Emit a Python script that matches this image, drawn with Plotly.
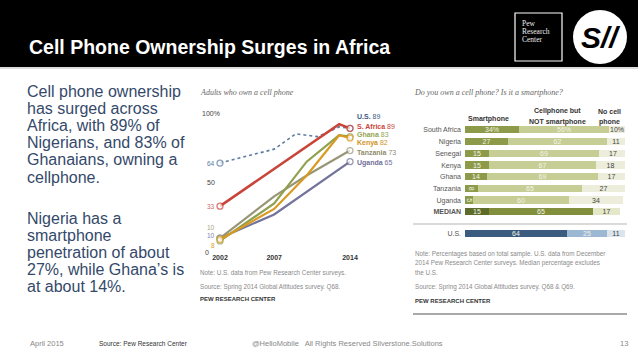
import plotly.graph_objects as go

W, H = 638, 359

def px(x):
    return x / W

def py(y):
    return 1 - y / H

# ---------------- data ----------------
title_text = "Cell Phone Ownership Surges in Africa"

para1 = ["Cell phone ownership", "has surged across", "Africa, with 89% of",
         "Nigerians, and 83% of", "Ghanaians, owning a", "cellphone."]
para2 = ["Nigeria has a", "smartphone", "penetration of about",
         "27%, while Ghana\u2019s is", "at about 14%."]

# line chart: adults who own a cell phone
us_years = [2002, 2007, 2009, 2011, 2013, 2014]
us_vals = [64, 74, 85, 83, 90, 89]
sa_years = [2002, 2013, 2014]
sa_vals = [33, 92, 89]
gh_years = [2002, 2007, 2010, 2013, 2014]
gh_vals = [8, 35, 65, 84, 83]
ke_years = [2002, 2007, 2010, 2013, 2014]
ke_vals = [9, 31, 55, 84, 82]
tz_years = [2002, 2007, 2010, 2014]
tz_vals = [10, 40, 55, 73]
ug_years = [2002, 2007, 2014]
ug_vals = [10, 27, 65]
line_ticks = [2002, 2007, 2014]

# bar chart: smartphone / cellphone / none
countries = ["South Africa", "Nigeria", "Senegal", "Kenya", "Ghana",
             "Tanzania", "Uganda", "MEDIAN"]
smart = [34, 27, 15, 15, 14, 8, 5, 15]
cell_only = [56, 62, 69, 67, 69, 65, 60, 65]
no_cell = [10, 11, 17, 18, 17, 27, 34, 17]
us_label = ["U.S."]
us_smart = [64]
us_cell = [25]
us_none = [11]

# ---------------- figure ----------------
fig = go.Figure()

series = [
    ("U.S.", us_years, us_vals, "#5b7aa3", "dot", 1.6),
    ("Uganda", ug_years, ug_vals, "#73739c", "solid", 2.2),
    ("Tanzania", tz_years, tz_vals, "#999577", "solid", 2.2),
    ("Ghana", gh_years, gh_vals, "#8fa04e", "solid", 2.2),
    ("Kenya", ke_years, ke_vals, "#d99a22", "solid", 2.2),
    ("S. Africa", sa_years, sa_vals, "#c9453a", "solid", 2.6),
]
for name, xs, ys, col, dash, w in series:
    sizes = [6 if i in (0, len(xs) - 1) else 0 for i in range(len(xs))]
    fig.add_trace(go.Scatter(
        x=xs, y=ys, mode="lines+markers", name=name,
        line=dict(color=col, width=w, dash=dash),
        marker=dict(symbol="circle", size=sizes, color="white",
                    line=dict(color=col, width=1.3)),
        cliponaxis=False, xaxis="x", yaxis="y", showlegend=False,
        hoverinfo="skip"))

light_txt = "#f3f4e6"
dark_txt = "#444444"

def bar_texts(vals, first_pct):
    return [(f"{v}%" if (i == 0 and first_pct) else f"{v}") for i, v in enumerate(vals)]

smart_cols = ["#8c9a4a"] * 7 + ["#5d6b2b"]
cell_cols = ["#c6cd95"] * 7 + ["#828f3d"]
none_cols = ["#eceedb"] * 7 + ["#e4e8c8"]

for vals, cols, tc in [(smart, smart_cols, light_txt), (cell_only, cell_cols, light_txt),
                       (no_cell, none_cols, dark_txt)]:
    fig.add_trace(go.Bar(
        y=countries, x=vals, orientation="h", marker=dict(color=cols, line=dict(width=0)),
        text=bar_texts(vals, True), textposition="inside", insidetextanchor="middle",
        textfont=dict(size=7, color=tc, family="Liberation Sans"),
        width=0.62, xaxis="x2", yaxis="y2", showlegend=False, hoverinfo="skip"))

for vals, col, tc in [(us_smart, "#3c5c7f", light_txt), (us_cell, "#9cb8d3", light_txt),
                      (us_none, "#dce5ee", dark_txt)]:
    fig.add_trace(go.Bar(
        y=us_label, x=vals, orientation="h", marker=dict(color=col, line=dict(width=0)),
        text=[str(v) for v in vals], textposition="inside", insidetextanchor="middle",
        textfont=dict(size=7, color=tc, family="Liberation Sans"),
        width=0.62, xaxis="x3", yaxis="y3", showlegend=False, hoverinfo="skip"))

ann = []
shapes = []

# header
shapes.append(dict(type="rect", xref="paper", yref="paper", x0=0, x1=1, y0=py(67), y1=1,
                   fillcolor="black", line=dict(width=0), layer="below"))
shapes.append(dict(type="line", xref="paper", yref="paper", x0=0, x1=1, y0=py(68), y1=py(68),
                   line=dict(color="#bbbbbb", width=1)))
ann.append(dict(text=f"<b>{title_text}</b>", x=px(27), y=py(47), xref="paper", yref="paper",
                xanchor="left", yanchor="middle", showarrow=False,
                font=dict(size=19.5, color="white", family="Liberation Sans")))
# Pew logo box
shapes.append(dict(type="rect", xref="paper", yref="paper", x0=px(515), x1=px(562),
                   y0=py(61), y1=py(13), line=dict(color="white", width=1.2)))
for i, t in enumerate(["Pew", "Research", "Center"]):
    ann.append(dict(text=t, x=px(520), y=py(24 + 8 * i), xref="paper", yref="paper",
                    xanchor="left", yanchor="middle", showarrow=False,
                    font=dict(size=7.5, color="#eeeeee", family="Liberation Serif")))
# SH logo
shapes.append(dict(type="circle", xref="paper", yref="paper", x0=px(573), x1=px(627),
                   y0=py(64), y1=py(10), fillcolor="white", line=dict(width=0)))
ann.append(dict(text="<b><i>S//</i></b>", x=px(600), y=py(37), xref="paper", yref="paper",
                xanchor="center", yanchor="middle", showarrow=False,
                font=dict(size=30, color="black", family="Liberation Sans")))

# left paragraphs
para_col = "#34496a"
for i, t in enumerate(para1):
    ann.append(dict(text=t, x=px(25), y=py(91.5 + 17.1 * i), xref="paper", yref="paper",
                    xanchor="left", yanchor="middle", showarrow=False,
                    font=dict(size=16, color=para_col, family="Liberation Sans")))
for i, t in enumerate(para2):
    ann.append(dict(text=t, x=px(25), y=py(218 + 17.1 * i), xref="paper", yref="paper",
                    xanchor="left", yanchor="middle", showarrow=False,
                    font=dict(size=16, color=para_col, family="Liberation Sans")))

# line chart texts
ann.append(dict(text="<i>Adults who own a cell phone</i>", x=px(198), y=py(93), xref="paper",
                yref="paper", xanchor="left", yanchor="middle", showarrow=False,
                font=dict(size=8, color="#666666", family="Liberation Serif")))
for val, lbl, xx in [(100, "100%", 200), (50, "50", 205), (0, "0", 203)]:
    ann.append(dict(text=lbl, x=px(xx), y=val, xref="paper", yref="y", xanchor="left",
                    yanchor="middle", showarrow=False,
                    font=dict(size=7, color="#444444", family="Liberation Sans")))
left_labels = [("64", us_vals[0], "#5b7aa3", 0), ("33", sa_vals[0], "#d0675e", 0),
               ("10", tz_vals[0], "#a8a47e", 11), ("10", ug_vals[0], "#8080a8", 3),
               ("8", ke_vals[0], "#d99a22", -6)]
for t, v, c, dy in left_labels:
    ann.append(dict(text=t, x=2002, y=v, xref="x", yref="y", xanchor="right", yanchor="middle",
                    xshift=-3, yshift=dy, showarrow=False,
                    font=dict(size=6.5, color=c, family="Liberation Sans")))
end_labels = [("U.S.", us_vals[-1], "#3d5a84", 117), ("S. Africa", sa_vals[-1], "#c9453a", 126),
              ("Ghana", gh_vals[-1], "#94a456", 134), ("Kenya", ke_vals[-1], "#d3921c", 143),
              ("Tanzania", tz_vals[-1], "#8f8c6c", 152), ("Uganda", ug_vals[-1], "#6f6f98", 163)]
for name, v, c, yy in end_labels:
    ann.append(dict(text=f"<b>{name}</b> {v}", x=px(355), y=py(yy), xref="paper", yref="paper",
                    xanchor="left", yanchor="middle", showarrow=False,
                    font=dict(size=7, color=c, family="Liberation Sans")))
for i, t in enumerate(["Note: U.S. data from Pew Research Center surveys.",
                       "Source: Spring 2014 Global Attitudes survey. Q68."]):
    ann.append(dict(text=t, x=px(198), y=py(273 + 14 * i), xref="paper", yref="paper",
                    xanchor="left", yanchor="middle", showarrow=False,
                    font=dict(size=6.3, color="#8a8a8a", family="Liberation Sans")))
ann.append(dict(text="<b>PEW RESEARCH CENTER</b>", x=px(198), y=py(299), xref="paper",
                yref="paper", xanchor="left", yanchor="middle", showarrow=False,
                font=dict(size=6, color="#333333", family="Liberation Sans")))

# bar chart texts
ann.append(dict(text="<i>Do you own a cell phone? Is it a smartphone?</i>", x=px(412), y=py(93),
                xref="paper", yref="paper", xanchor="left", yanchor="middle", showarrow=False,
                font=dict(size=8, color="#666666", family="Liberation Serif")))
for t, xx, yy in [("<b>Smartphone</b>", 488, 119),
                  ("<b>Cellphone but</b>", 557, 111), ("<b>NOT smartphone</b>", 557, 122),
                  ("<b>No cell</b>", 609, 111), ("<b>phone</b>", 609, 122)]:
    ann.append(dict(text=t, x=px(xx), y=py(yy), xref="paper", yref="paper",
                    xanchor="center", yanchor="middle", showarrow=False,
                    font=dict(size=7, color="#333333", family="Liberation Sans")))
shapes.append(dict(type="line", xref="paper", yref="paper", x0=px(413), x1=px(627),
                   y0=py(224), y1=py(224), line=dict(color="#b5b5b5", width=1)))
for i, t in enumerate(["Note: Percentages based on total sample. U.S. data from December",
                       "2014 Pew Research Center surveys. Median percentage excludes",
                       "the U.S."]):
    ann.append(dict(text=t, x=px(413), y=py(254 + 9 * i), xref="paper", yref="paper",
                    xanchor="left", yanchor="middle", showarrow=False,
                    font=dict(size=6.3, color="#8a8a8a", family="Liberation Sans")))
ann.append(dict(text="Source: Spring 2014 Global Attitudes survey. Q68 & Q69.", x=px(413),
                y=py(287), xref="paper", yref="paper", xanchor="left", yanchor="middle",
                showarrow=False, font=dict(size=6.3, color="#8a8a8a", family="Liberation Sans")))
ann.append(dict(text="<b>PEW RESEARCH CENTER</b>", x=px(413), y=py(301), xref="paper",
                yref="paper", xanchor="left", yanchor="middle", showarrow=False,
                font=dict(size=6, color="#333333", family="Liberation Sans")))
shapes.append(dict(type="line", xref="paper", yref="paper", x0=px(413), x1=px(627),
                   y0=py(314), y1=py(314), line=dict(color="#555555", width=1)))

# footer
for t, xx, c, s in [("April 2015", 28, "#888888", 7.5),
                    ("Source: Pew Research Center", 97, "#333333", 6.5),
                    ("@HelloMobile   All Rights Reserved Silverstone.Solutions", 250, "#888888", 7.5),
                    ("13", 618, "#888888", 7.5)]:
    ann.append(dict(text=t, x=px(xx), y=py(343), xref="paper", yref="paper",
                    xanchor="left", yanchor="middle", showarrow=False,
                    font=dict(size=s, color=c, family="Liberation Sans")))

row_h = 11.7
fig.update_layout(
    width=W, height=H, margin=dict(l=0, r=0, t=0, b=0, pad=0, autoexpand=False),
    paper_bgcolor="white", plot_bgcolor="rgba(0,0,0,0)",
    barmode="stack", bargap=0,
    uniformtext=dict(minsize=7, mode="show"),
    annotations=ann, shapes=shapes,
    xaxis=dict(domain=[px(220), px(350)], range=[2002, 2014], tickvals=line_ticks,
               ticktext=[f"<b>{t}</b>" for t in line_ticks],
               tickfont=dict(size=7, color="#333333", family="Liberation Sans"),
               showgrid=False, zeroline=False, showline=False, ticks="", anchor="y",
               automargin=False),
    yaxis=dict(domain=[py(252), py(113)], range=[0, 100], visible=False, anchor="x",
               automargin=False),
    xaxis2=dict(domain=[px(465), px(625)], range=[0, 100], visible=False, anchor="y2",
                automargin=False),
    yaxis2=dict(domain=[py(130 + 7 * row_h + row_h / 2), py(130 - row_h / 2)],
                categoryorder="array", categoryarray=countries, autorange="reversed",
                tickvals=countries,
                ticktext=[("<b>MEDIAN</b>" if c == "MEDIAN" else c) for c in countries],
                tickfont=dict(size=7, color="#555555", family="Liberation Sans"),
                showgrid=False, zeroline=False, showline=False, ticks="", anchor="x2",
                ticklabelstandoff=3, automargin=False),
    xaxis3=dict(domain=[px(465), px(625)], range=[0, 100], visible=False, anchor="y3",
                automargin=False),
    yaxis3=dict(domain=[py(234 + row_h / 2), py(234 - row_h / 2)],
                tickfont=dict(size=7, color="#555555", family="Liberation Sans"),
                showgrid=False, zeroline=False, showline=False, ticks="", anchor="x3",
                ticklabelstandoff=3, automargin=False),
)

fig.write_html("out.html", config={"displayModeBar": False},
               post_script="document.body.style.margin='0';document.body.style.overflow='hidden';")
